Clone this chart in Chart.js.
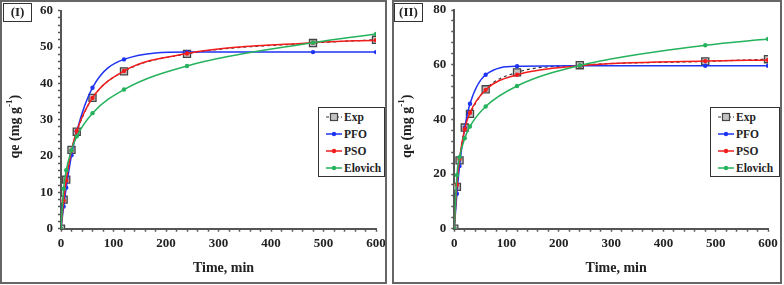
<!DOCTYPE html>
<html>
<head>
<meta charset="utf-8">
<script src="https://cdn.jsdelivr.net/npm/chart.js@4.4.1/dist/chart.umd.min.js"></script>
<style>
    body { margin: 0; width: 784px; height: 285px; background: #fff; position: relative; overflow: hidden; }
    .panel { position: absolute; top: 0; height: 284px; box-sizing: border-box; border: 2px solid #666; background: #fff; }
    #p1 { left: 0; width: 387px; }
    #p2 { left: 392px; width: 390px; }
    .panel canvas { position: absolute; left: 0; top: 0; }
    .tag { position: absolute; top: 1px; width: 29px; height: 19px; box-sizing: border-box; border: 1.5px solid #333;
           font: bold 13px 'Liberation Serif', serif; color: #222; text-align: center; line-height: 16px; }
    .legend { position: absolute; right: 0; top: 105px; height: 70px; box-sizing: border-box; border: 1.5px solid #333; background: #fff; }
    .legend .row { display: flex; align-items: center; height: 17px; padding-left: 7px; font: bold 11.5px 'Liberation Serif', serif; color: #222; }
    .legend svg { margin-right: 2px; }
</style>
</head>
<body>
<div class="panel" id="p1">
    <canvas id="c1"></canvas>
    <div class="tag" style="left:1px">(I)</div>
    <div class="legend" id="lg1" style="width:67px"></div>
</div>
<div class="panel" id="p2">
    <canvas id="c2"></canvas>
    <div class="tag" style="left:0">(II)</div>
    <div class="legend" id="lg2" style="width:70px"></div>
</div>
<script>
    // contact time (min)
    const time = [0, 5, 10, 20, 30, 60, 120, 240, 480, 600];

    // panel (I) qe values, mg/g
    const expI = [0, 8.0, 13.5, 21.7, 26.7, 36.0, 43.3, 48.1, 51.1, 52.0];
    const pfoI = [0, 6.1, 11.3, 20.2, 26.8, 38.8, 46.6, 48.6, 48.6, 48.6];
    const psoI = [0, 7.7, 13.3, 21.5, 26.9, 36.0, 43.4, 48.2, 51.2, 51.9];
    const eloI = [0, 11.0, 16.1, 21.6, 25.4, 31.8, 38.3, 44.8, 51.2, 53.6];

    // panel (II) qe values, mg/g
    const expII = [0, 15.3, 25.0, 37.0, 42.0, 51.0, 57.2, 59.8, 61.2, 62.0];
    const pfoII = [0, 12.8, 22.9, 36.9, 45.7, 56.3, 59.4, 59.6, 59.6, 59.6];
    const psoII = [0, 16.1, 25.6, 36.5, 42.4, 50.8, 56.3, 59.6, 61.3, 61.7];
    const eloII = [0, 19.6, 26.2, 33.1, 37.4, 44.7, 52.2, 59.7, 67.1, 69.4];

    const seriesNames = ['Exp', 'PFO', 'PSO', 'Elovich'];
    const colors = ['#333333', '#1f33f2', '#f21c1c', '#25b25c'];

    const serif = "'Liberation Serif', serif";
    const axisColor = '#555';

    function toPoints(values) {
        return time.map((t, i) => ({ x: t, y: values[i] }));
    }

    function buildDatasets(exp, pfo, pso, elo) {
        const fits = [pfo, pso, elo].map((vals, k) => ({
            label: seriesNames[k + 1],
            data: toPoints(vals),
            borderColor: colors[k + 1],
            backgroundColor: colors[k + 1],
            borderWidth: 1.5,
            pointRadius: 2.2,
            pointBorderWidth: 0,
            cubicInterpolationMode: 'monotone',
            order: 2 - k
        }));
        const expSet = {
            label: 'Exp',
            data: toPoints(exp),
            borderColor: '#333',
            borderWidth: 1.2,
            borderDash: [3, 3],
            backgroundColor: '#c4c4c4',
            pointStyle: 'rect',
            pointRadius: 5,
            pointBorderColor: '#444',
            pointBorderWidth: 1.3,
            cubicInterpolationMode: 'monotone',
            order: 3
        };
        return [expSet].concat(fits);
    }

    // axis titles drawn at fixed offsets from the plot area
    const axisTitles = {
        id: 'axisTitles',
        afterDraw(chart) {
            const ctx = chart.ctx;
            const a = chart.chartArea;
            ctx.save();
            ctx.fillStyle = '#222';
            ctx.font = `bold 14px ${serif}`;
            ctx.textAlign = 'center';
            ctx.textBaseline = 'alphabetic';
            ctx.fillText('Time, min', (a.left + a.right) / 2 + 5, 270);

            const parts = [
                { t: 'qe (mg g', size: 14, dy: 0 },
                { t: '-1', size: 9, dy: -5 },
                { t: ')', size: 14, dy: 0 }
            ];
            let total = 0;
            parts.forEach(p => {
                ctx.font = `bold ${p.size}px ${serif}`;
                p.w = ctx.measureText(p.t).width;
                total += p.w;
            });
            ctx.translate(13, (a.top + a.bottom) / 2 + 7);
            ctx.rotate(-Math.PI / 2);
            ctx.textAlign = 'left';
            ctx.textBaseline = 'middle';
            let x = -total / 2;
            parts.forEach(p => {
                ctx.font = `bold ${p.size}px ${serif}`;
                ctx.fillText(p.t, x, p.dy);
                x += p.w;
            });
            ctx.restore();
        }
    };

    function makeChart(canvasId, datasets, opts) {
        const canvas = document.getElementById(canvasId);
        canvas.width = opts.w;
        canvas.height = opts.h;
        canvas.style.width = opts.w + 'px';
        canvas.style.height = opts.h + 'px';

        return new Chart(canvas.getContext('2d'), {
            type: 'line',
            data: { datasets: datasets },
            options: {
                responsive: false,
                animation: false,
                devicePixelRatio: 1,
                layout: { padding: { top: opts.top, right: opts.right, left: 0, bottom: 0 } },
                plugins: { legend: { display: false }, tooltip: { enabled: false } },
                scales: {
                    x: {
                        type: 'linear',
                        min: 0,
                        max: 600,
                        afterFit: s => {
                            s.height = opts.h - opts.bottom;
                            s.paddingLeft = 0;
                            s.paddingRight = 0;
                        },
                        border: { display: true, color: axisColor, width: 2 },
                        grid: { drawOnChartArea: false, drawTicks: true, tickLength: 3, tickColor: axisColor, tickWidth: 1.5 },
                        ticks: {
                            stepSize: 20,
                            autoSkip: false,
                            maxRotation: 0,
                            padding: 4,
                            color: '#222',
                            font: { family: serif, size: 13, weight: 'bold' },
                            callback: v => (v % 100 === 0 ? v : '')
                        }
                    },
                    y: {
                        min: 0,
                        max: opts.yMax,
                        afterFit: s => {
                            s.width = opts.left;
                            s.paddingTop = 0;
                            s.paddingBottom = 0;
                        },
                        border: { display: true, color: axisColor, width: 2 },
                        grid: { drawOnChartArea: false, drawTicks: true, tickLength: 3, tickColor: axisColor, tickWidth: 1.5 },
                        ticks: {
                            stepSize: opts.yMinor,
                            autoSkip: false,
                            padding: 5,
                            color: '#222',
                            font: { family: serif, size: 13, weight: 'bold' },
                            callback: v => (v % opts.yMajor === 0 ? v : '')
                        }
                    }
                }
            },
            plugins: [axisTitles]
        });
    }

    function buildLegend(id) {
        const box = document.getElementById(id);
        seriesNames.forEach((name, i) => {
            const row = document.createElement('div');
            row.className = 'row';
            let sample;
            if (i === 0) {
                sample = '<svg width="16" height="10"><line x1="0" y1="5" x2="16" y2="5" stroke="#333" stroke-width="1.2" stroke-dasharray="3,2"/>' +
                    '<rect x="4.5" y="1.5" width="7" height="7" fill="#c4c4c4" stroke="#444" stroke-width="1.2"/></svg>';
            } else {
                sample = `<svg width="16" height="10"><line x1="0" y1="5" x2="16" y2="5" stroke="${colors[i]}" stroke-width="1.5"/>` +
                    `<circle cx="8" cy="5" r="2.2" fill="${colors[i]}"/></svg>`;
            }
            row.innerHTML = sample + '<span>' + name + '</span>';
            box.appendChild(row);
        });
    }

    makeChart('c1', buildDatasets(expI, pfoI, psoI, eloI),
        { w: 383, h: 280, left: 59, right: 9, top: 8.7, bottom: 226.7, yMax: 60, yMinor: 2, yMajor: 10 });
    makeChart('c2', buildDatasets(expII, pfoII, psoII, eloII),
        { w: 386, h: 280, left: 60.3, right: 12, top: 8, bottom: 226.7, yMax: 80, yMinor: 4, yMajor: 20 });

    buildLegend('lg1');
    buildLegend('lg2');
</script>
</body>
</html>
